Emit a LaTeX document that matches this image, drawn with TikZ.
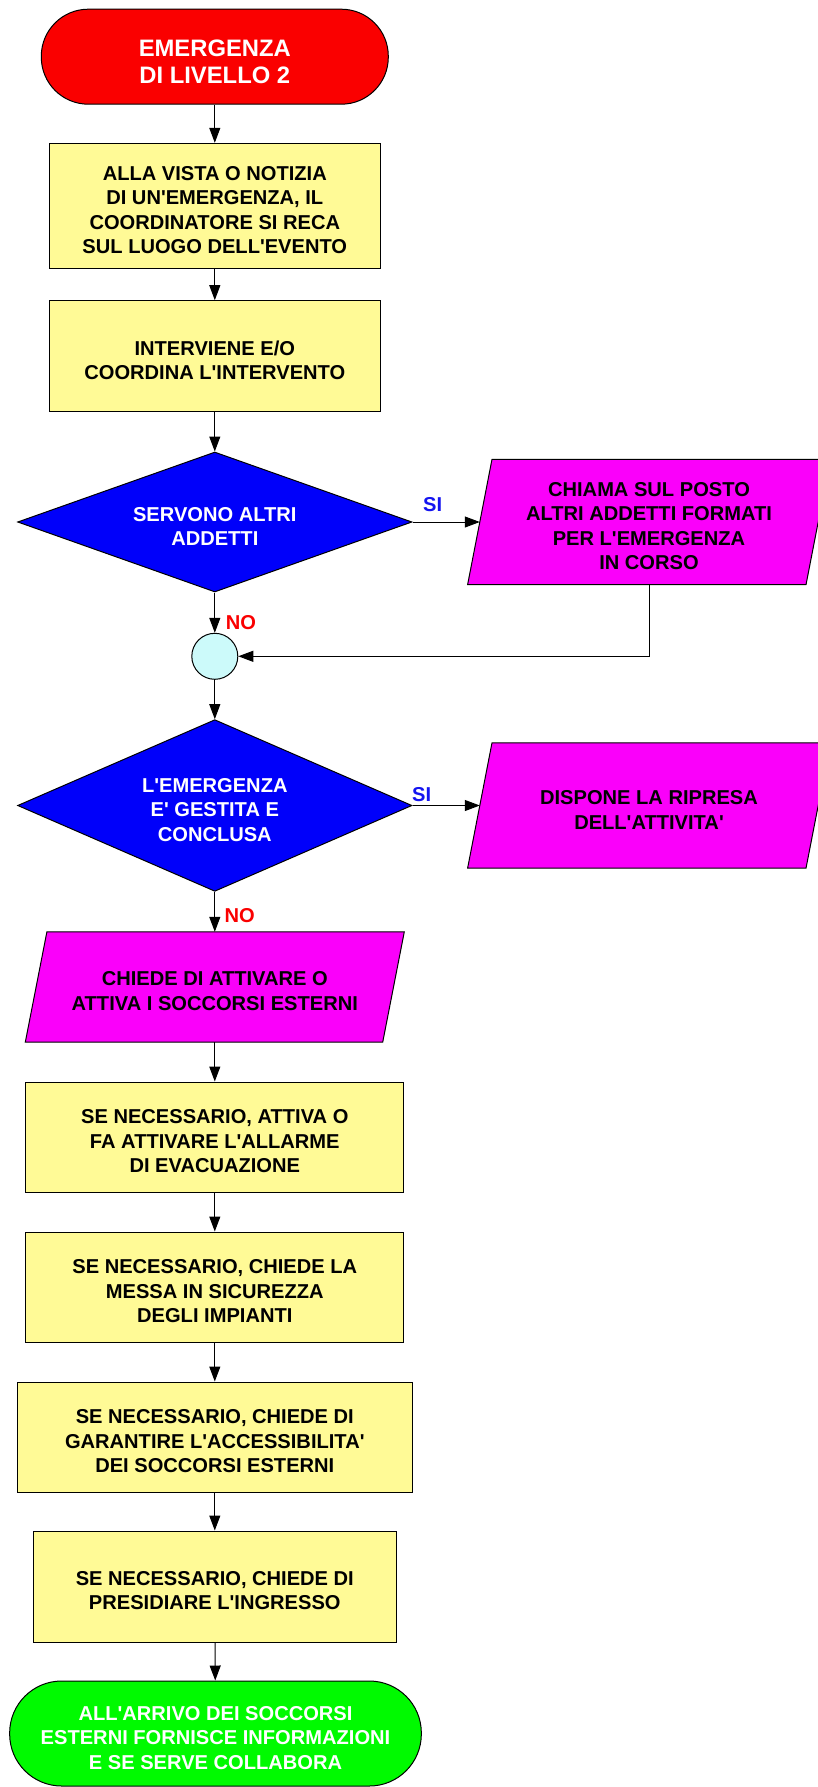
\documentclass[tikz,border=0pt]{standalone}
\usepackage{fontspec}
\setmainfont{Liberation Sans}[Ligatures=TeXOff]
\usetikzlibrary{shapes.geometric,arrows.meta,backgrounds}
\definecolor{boxyellow}{RGB}{255,250,150}
\definecolor{startred}{RGB}{250,0,0}
\definecolor{decblue}{RGB}{0,0,250}
\definecolor{iomag}{RGB}{250,0,250}
\definecolor{endgreen}{RGB}{0,250,0}
\definecolor{joincyan}{RGB}{204,250,250}
\definecolor{siblue}{RGB}{20,20,240}
\definecolor{nored}{RGB}{250,0,0}
\newcommand{\tsp}{\rule{0pt}{1.12em}}
\begin{document}
\begin{tikzpicture}[x=1pt,y=-1pt,
  every node/.style={font=\fontsize{20.1}{24.5}\selectfont\bfseries, align=center, inner sep=0pt},
  base/.style={draw=black, line width=1pt},
  stadium/.style={base, rectangle, rounded corners=#1, text=white},
  procbox/.style={base, rectangle, fill=boxyellow},
  decision/.style={base, diamond, fill=decblue, text=white},
  iotext/.style={rectangle},
  ioshape/.style={base, fill=iomag},
  conn/.style={line width=1pt, -{Triangle[length=15pt,width=11pt]}},
  lab/.style={anchor=base west}
]
\useasboundingbox (0,0) rectangle (818,1787);

\node[stadium=47pt, fill=startred, minimum width=347pt, minimum height=95pt,
  font=\fontsize{23.8}{27.3}\selectfont\bfseries] (start) at (214.8,56.7)
  {\tsp EMERGENZA\\DI LIVELLO 2};

\node[procbox, minimum width=331.5pt, minimum height=125pt] (box1) at (214.8,205.8)
  {\tsp ALLA VISTA O NOTIZIA\\DI UN'EMERGENZA, IL\\COORDINATORE SI RECA\\SUL LUOGO DELL'EVENTO};

\node[procbox, minimum width=331.5pt, minimum height=111pt] (box2) at (214.8,356.2)
  {\tsp INTERVIENE E/O\\COORDINA L'INTERVENTO};

\node[decision, minimum width=394.4pt, minimum height=140pt, aspect=2.8] (d1) at (214.8,522)
  {\tsp SERVONO ALTRI\\ADDETTI};

\node[iotext, minimum width=338pt, minimum height=125pt] (p1) at (649,522)
  {\tsp CHIAMA SUL POSTO\\ALTRI ADDETTI FORMATI\\PER L'EMERGENZA\\IN CORSO};

\node[base, circle, fill=joincyan, minimum size=46pt] (c) at (214.8,656.3) {};

\node[decision, minimum width=394.4pt, minimum height=171.7pt, aspect=2.3] (d2) at (214.8,805.5)
  {\tsp L'EMERGENZA\\E' GESTITA E\\CONCLUSA};

\node[iotext, minimum width=338pt, minimum height=125pt] (p2) at (649,805.5)
  {\tsp DISPONE LA RIPRESA\\DELL'ATTIVITA'};

\node[iotext, minimum width=357pt, minimum height=110pt] (p3) at (214.8,987)
  {\tsp CHIEDE DI ATTIVARE O\\ATTIVA I SOCCORSI ESTERNI};

\begin{scope}[on background layer]
  \draw[ioshape] ([xshift=-12.2pt]p1.south west) -- ([xshift=-12.2pt]p1.south east)
    -- ([xshift=12.2pt]p1.north east) -- ([xshift=12.2pt]p1.north west) -- cycle;
  \draw[ioshape] ([xshift=-12.2pt]p2.south west) -- ([xshift=-12.2pt]p2.south east)
    -- ([xshift=12.2pt]p2.north east) -- ([xshift=12.2pt]p2.north west) -- cycle;
  \draw[ioshape] ([xshift=-10.8pt]p3.south west) -- ([xshift=-10.8pt]p3.south east)
    -- ([xshift=10.8pt]p3.north east) -- ([xshift=10.8pt]p3.north west) -- cycle;
\end{scope}

\node[procbox, minimum width=378pt, minimum height=110pt] (box3) at (214.8,1137)
  {\tsp SE NECESSARIO, ATTIVA O\\FA ATTIVARE L'ALLARME\\DI EVACUAZIONE};

\node[procbox, minimum width=378pt, minimum height=110pt] (box4) at (214.8,1287)
  {\tsp SE NECESSARIO, CHIEDE LA\\MESSA IN SICUREZZA\\DEGLI IMPIANTI};

\node[procbox, minimum width=394.6pt, minimum height=110pt] (box5) at (214.8,1437)
  {\tsp SE NECESSARIO, CHIEDE DI\\GARANTIRE L'ACCESSIBILITA'\\DEI SOCCORSI ESTERNI};

\node[procbox, minimum width=363pt, minimum height=111pt] (box6) at (214.8,1586.5)
  {\tsp SE NECESSARIO, CHIEDE DI\\PRESIDIARE L'INGRESSO};

\node[stadium=52pt, fill=endgreen, minimum width=411.7pt, minimum height=105pt] (end) at (215.5,1733.5)
  {\tsp ALL'ARRIVO DEI SOCCORSI\\ESTERNI FORNISCE INFORMAZIONI\\E SE SERVE COLLABORA};

% labels
\node[lab, text=siblue] (si1) at (423,511.7) {SI};
\node[lab, text=siblue] (si2) at (412,801) {SI};
\node[lab, text=nored] (no1) at (225.7,629) {NO};
\node[lab, text=nored] (no2) at (224.5,922) {NO};

% connectors
\draw[conn] (start) -- (box1);
\draw[conn] (box1) -- (box2);
\draw[conn] (box2) -- (d1);
\draw[conn] (d1.east) -- (p1.west);
\draw[conn] (p1.south) |- (c.east);
\draw[conn] (d1.south) -- (c.north);
\draw[conn] (c.south) -- (d2.north);
\draw[conn] (d2.east) -- (p2.west);
\draw[conn] (d2.south) -- (p3.north);
\draw[conn] (p3.south) -- (box3.north);
\draw[conn] (box3) -- (box4);
\draw[conn] (box4) -- (box5);
\draw[conn] (box5) -- (box6);
\draw[conn] (box6) -- (end);
\end{tikzpicture}
\end{document}
